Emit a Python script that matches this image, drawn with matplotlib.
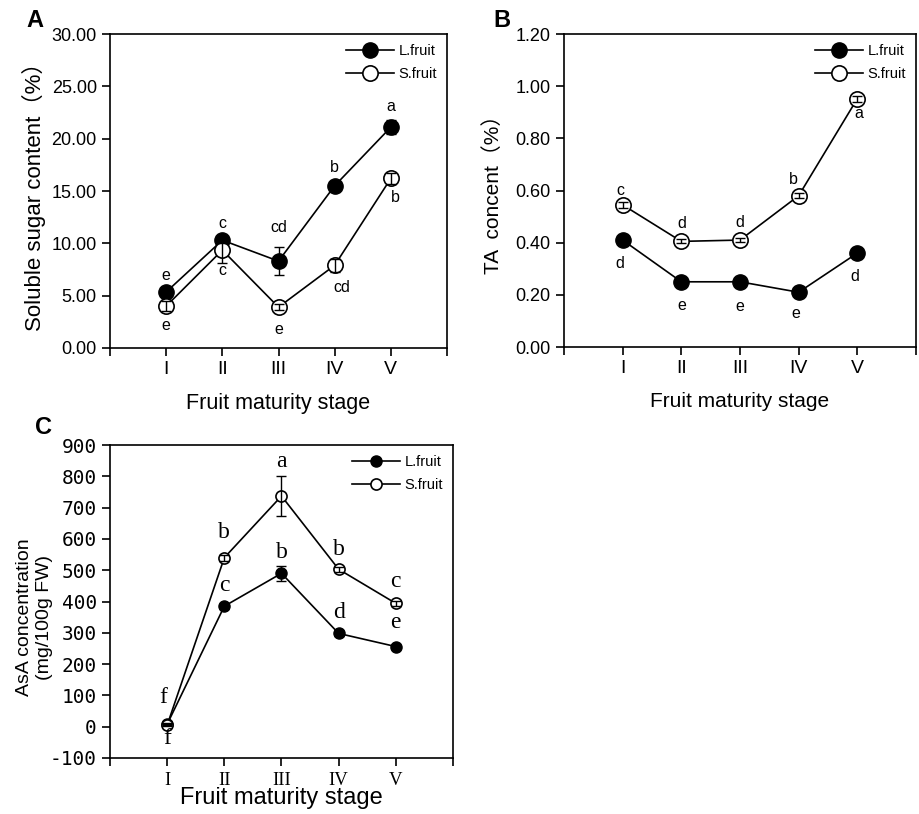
import numpy as np
import matplotlib
matplotlib.use('Agg')
import matplotlib.pyplot as plt

plt.rcParams['font.family'] = ['Liberation Sans', 'Noto Sans CJK SC', 'DejaVu Sans']

stages = ['I', 'II', 'III', 'IV', 'V']

# A: soluble sugar (%)
sugar_L = [5.35, 10.3, 8.3, 15.5, 21.1]
sugar_L_err = [0.3, 0.3, 1.35, 0.3, 0.7]
sugar_S = [4.0, 9.35, 3.9, 7.9, 16.2]
sugar_S_err = [0.45, 1.2, 0.3, 0.65, 0.5]
sugar_L_let = ['e', 'c', 'cd', 'b', 'a']
sugar_S_let = ['e', 'c', 'e', 'cd', 'b']

# B: TA (%)
ta_L = [0.41, 0.25, 0.25, 0.21, 0.36]
ta_L_err = [0.005, 0.005, 0.005, 0.005, 0.005]
ta_S = [0.545, 0.405, 0.41, 0.58, 0.952]
ta_S_err = [0.012, 0.008, 0.008, 0.01, 0.012]
ta_L_let = ['d', 'e', 'e', 'e', 'd']
ta_S_let = ['c', 'd', 'd', 'b', 'a']

# C: AsA (mg/100g FW)
asa_L = [8, 385, 490, 298, 256]
asa_L_err = [3, 8, 25, 8, 6]
asa_S = [5, 540, 737, 503, 394]
asa_S_err = [3, 10, 64, 8, 8]
asa_L_let = ['f', 'c', 'b', 'd', 'e']
asa_S_let = ['f', 'b', 'a', 'b', 'c']

fig = plt.figure(figsize=(9.19, 8.14), dpi=100)

def panel(ax, L, Le, S, Se, ms_f, ms_o):
    x = np.arange(1, 6)
    ax.plot(x, L, '-', color='k', lw=1.2, marker='o', ms=ms_f, mfc='k', mec='k', label='L.fruit', zorder=2)
    ax.plot(x, S, '-', color='k', lw=1.2, marker='o', ms=ms_o, mfc='white', mec='k', mew=1.2, label='S.fruit', zorder=2)
    ax.errorbar(x, L, yerr=Le, fmt='none', ecolor='k', elinewidth=1, capsize=3.5, zorder=3)
    ax.errorbar(x, S, yerr=Se, fmt='none', ecolor='k', elinewidth=1, capsize=3.5, zorder=3)
    ax.set_xlim(0, 6)
    ax.set_xticks(range(7))
    for s in ax.spines.values():
        s.set_linewidth(1.2)
    ax.tick_params(direction='out', length=6, width=1.2)
    ax.legend(loc='upper right', frameon=False, fontsize=10.5, handlelength=3.3,
              handletextpad=0.3, borderaxespad=0.3, labelspacing=0.6)
    return x

def letters(ax, x, y, labs, offs, **kw):
    for xi, yi, t, (dx, dy) in zip(x, y, labs, offs):
        ax.annotate(t, (xi, yi), xytext=(dx, dy), textcoords='offset points',
                    ha='center', va='center', **kw)

# Panel A
axA = fig.add_axes([0.1197, 0.5725, 0.3667, 0.3857])
x = panel(axA, sugar_L, sugar_L_err, sugar_S, sugar_S_err, 11, 11)
axA.set_ylim(0, 30)
axA.set_yticks(np.arange(0, 31, 5))
axA.set_yticklabels(['%.2f' % v for v in np.arange(0, 31, 5)], fontsize=13)
axA.set_xticklabels([''] + stages + [''], fontsize=14)
axA.set_ylabel('Soluble sugar content（%）', fontsize=16, labelpad=4)
axA.set_xlabel('Fruit maturity stage', fontsize=15.5, labelpad=11)
letters(axA, x, sugar_L, sugar_L_let, [(0, 12), (0, 12), (0, 24), (0, 13), (0, 15)], fontsize=11.5)
letters(axA, x, sugar_S, sugar_S_let, [(0, -14), (0, -15), (0, -16), (5, -16), (3, -14)], fontsize=11.5)

# Panel B
axB = fig.add_axes([0.6137, 0.5737, 0.3830, 0.3845])
x = panel(axB, ta_L, ta_L_err, ta_S, ta_S_err, 11, 11)
axB.set_ylim(0, 1.2)
axB.set_yticks(np.arange(0, 1.21, 0.2))
axB.set_yticklabels(['%.2f' % v for v in np.arange(0, 1.21, 0.2)], fontsize=13)
axB.set_xticklabels([''] + stages + [''], fontsize=14)
axB.set_ylabel('TA  concent（%）', fontsize=15)
axB.yaxis.set_label_coords(-0.172, 0.505)
axB.set_xlabel('Fruit maturity stage', fontsize=15, labelpad=11)
letters(axB, x, ta_S, ta_S_let, [(-2, 10), (0, 13), (0, 13), (-4, 12), (1, -11)], fontsize=11.5)
letters(axB, x, ta_L, ta_L_let, [(-2, -17), (0, -17), (0, -18), (-2, -15), (-2, -17)], fontsize=11.5)

# Panel C
axC = fig.add_axes([0.1197, 0.0688, 0.3732, 0.3845])
x = panel(axC, asa_L, asa_L_err, asa_S, asa_S_err, 8, 8)
axC.set_ylim(-100, 900)
axC.set_yticks(np.arange(-100, 901, 100))
axC.set_yticklabels([str(v) for v in np.arange(-100, 901, 100)], fontsize=14,
                    family='DejaVu Sans Mono')
axC.set_xticklabels([''] + stages + [''], fontsize=13.5, family='Liberation Serif')
axC.tick_params(axis='x', pad=4)
axC.set_ylabel('AsA concentration\n(mg/100g FW)', fontsize=14, linespacing=1.3)
axC.yaxis.set_label_coords(-0.165, 0.45)
axC.set_xlabel('Fruit maturity stage', fontsize=17, labelpad=-1)
sk = dict(fontsize=17, family='Liberation Serif')
letters(axC, x, asa_S, asa_S_let, [(-3, 20), (0, 18), (0, 25), (0, 14), (0, 16)], **sk)
letters(axC, x, asa_L, asa_L_let, [(0, -10), (0, 15), (0, 15), (0, 15), (0, 17)], **sk)

fig.text(0.038, 0.975, 'A', fontsize=17, fontweight='bold', ha='center', va='center')
fig.text(0.546, 0.975, 'B', fontsize=17, fontweight='bold', ha='center', va='center')
fig.text(0.047, 0.475, 'C', fontsize=17, fontweight='bold', ha='center', va='center')

fig.savefig('out.png', dpi=100)
